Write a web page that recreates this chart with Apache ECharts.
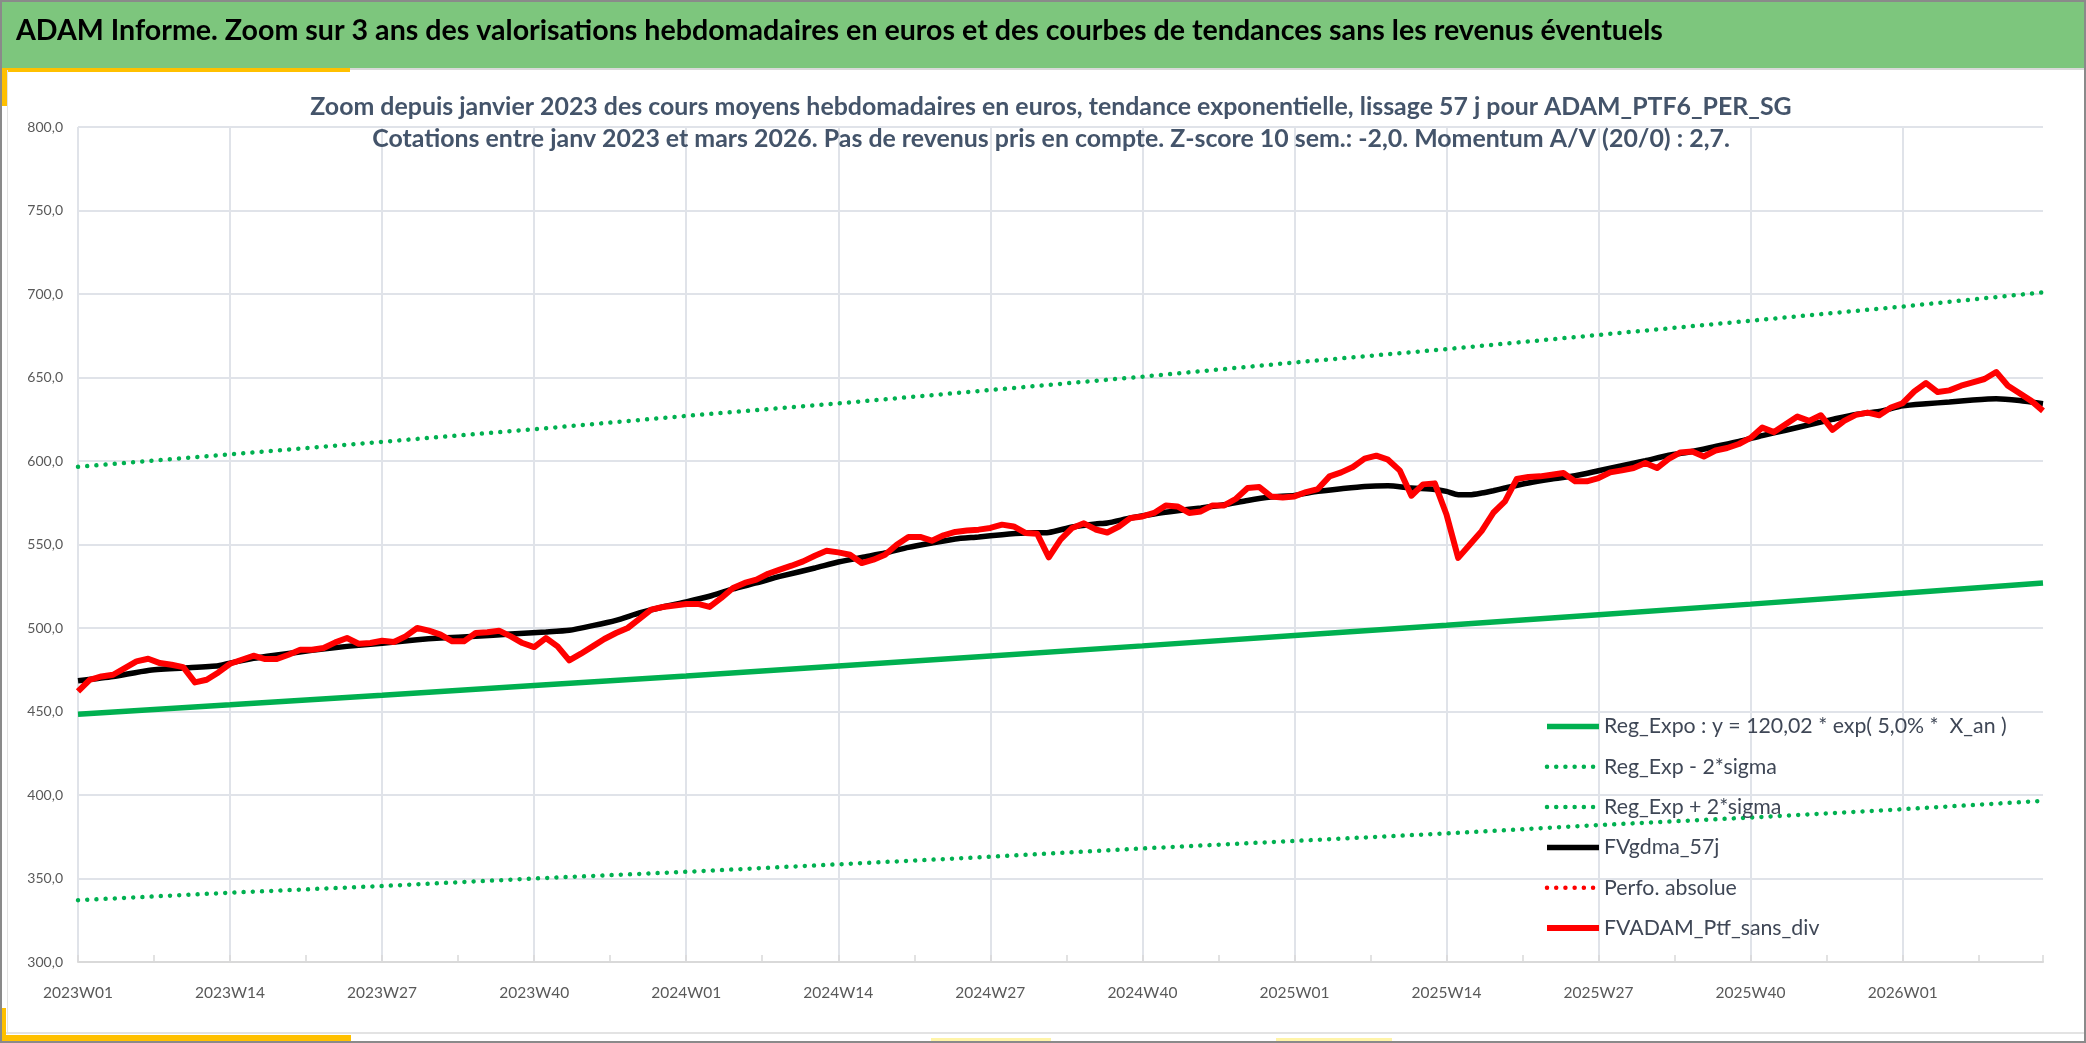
<!DOCTYPE html>
<html><head><meta charset="utf-8">
<script src="https://cdn.jsdelivr.net/npm/echarts@6/dist/echarts.min.js"></script>
<style>html,body{margin:0;padding:0;background:#fff}#c{width:2086px;height:1043px}</style>
</head><body><div id="c"></div>
<script>
// ---------- tick labels / categories ----------
const years = [2023, 2024, 2025, 2026];
const weeksPerYear = [52, 52, 52, 13];
const categories = [];
years.forEach((y, k) => { for (let w = 1; w <= weeksPerYear[k]; w++) categories.push(y + 'W' + String(w).padStart(2, '0')); });

// ---------- FVADAM_Ptf_sans_div (weekly, red) ----------
const ptfValues = [
 462,469,471,472,476,480,481.6,479,478,476.6,467.4,469,473.4,478.6,481,483.4,481.4,481.4,484,487,
 487,488,491.4,494,490.6,491,492.4,491.6,495,500,498.4,496,492,492,497,497.4,498.4,495,491,488.6,
 494,489,480.6,484.6,489,493.4,497,500,505.4,511,512.6,513.5,514.4,514.4,512.6,518,524,527,529,532.5,
 535,537.3,539.9,543.3,546.3,545.3,543.9,538.9,540.9,543.9,549.9,554.5,554.5,552.3,555.5,557.5,558.4,558.9,559.9,561.9,
 560.8,556.9,556.5,542.3,552.9,559.9,562.7,559,557.2,560.8,565.9,566.8,568.9,573.4,572.8,568.9,569.8,573.4,573.4,577.4,
 583.8,584.4,578.8,578.2,578.8,581.4,583.2,590.8,593.2,596.4,601.4,603.2,600.8,594.4,579.2,586,586.6,568,542,550,
 558,569,575.8,589.2,590.4,590.8,591.8,592.8,587.8,587.8,589.8,593.2,594.4,595.8,598.8,595.8,601.2,605.1,605.7,602.7,
 606.3,607.8,610.2,613.8,620,617.3,622,626.6,624,627.4,618.6,624,627.6,629,627.4,632,634.6,641.7,646.7,641.3,
 642.3,645.1,647.1,649.1,653.3,645.1,640.5,636,630
];

// ---------- FVgdma_57j (black), read at these week indexes ----------
const gdmaIdx = [0,3,6,9,12,13,15,17,20,23,26,29,31,34,37,40,42,44,46,48,50,52,54,56,58,60,63,65,67,69,71,73,75,77,79,81,83,85,87,
 88,90,92,94,96,98,100,102,104,106,108,110,112,114,116,117,118,119,120,121,122,124,126,128,130,132,134,136,138,140,142,144,146,148,150,152,154,156,158,160,162,164,166,168];
const gdmaValues = [468.4,471,474.6,476,477.4,479,481.8,483.8,486.6,489,490.9,493,494,495,496.4,497.6,498.6,501.4,504.6,509,512.6,515.6,519,523.4,527,530.9,535.9,539.5,542.3,544.9,548.3,550.9,553.3,554.5,555.9,556.9,557.2,560.5,562.3,
 562.9,565.9,568.3,570.2,571.9,573.8,576.4,578.4,579.4,581.8,583.4,584.8,585.2,583.8,583,581.8,579.8,579.8,580.8,582.2,583.8,586.8,589.2,591.2,594.2,597.2,600.2,603.4,605.7,608.7,611.7,615.2,618.4,621.7,624.9,627.9,629.7,633,634.3,635.3,636.5,637.3,636.2,634.3];

// ---------- regression lines, read at every gridline (13 weeks) + last week ----------
const trendIdx   = [0,13,26,39,52,65,78,91,104,117,130,143,156,168];
const regValues  = [448.4,454,459.7,465.5,471.3,477.3,483.3,489.3,495.5,501.7,508,514.3,520.8,527];
const lowValues  = [337,341.5,345.5,350,354,358.5,363,368,372.5,377,382,386.5,391.5,396.5];
const highValues = [596.5,604,611.5,619,627,634.5,642.5,650.5,659,667,675.5,684,692.5,701];

// ---------- axis ticks ----------
const yMin = 300, yMax = 800, yStep = 50;
const labelEvery = 13;

const TITLE = 'ADAM Informe. Zoom sur 3 ans des valorisations hebdomadaires en euros et des courbes de tendances sans les revenus éventuels';
const SUB1 = 'Zoom depuis janvier 2023 des cours moyens hebdomadaires en euros, tendance exponentielle, lissage 57 j pour ADAM_PTF6_PER_SG';
const SUB2 = 'Cotations entre janv 2023 et mars 2026. Pas de revenus pris en compte. Z-score 10 sem.: -2,0. Momentum A/V (20/0) : 2,7.';
const LEG = ['Reg_Expo : y = 120,02 * exp( 5,0% *  X_an )', 'Reg_Exp - 2*sigma', 'Reg_Exp + 2*sigma', 'FVgdma_57j', 'Perfo. absolue', 'FVADAM_Ptf_sans_div'];

const FONT = 'Lato, "Open Sans", sans-serif';
const GREEN = '#00B050', RED = '#FF0000', GRID = '#e0e3e9', TXT = '#595959', SUBC = '#44546A';
const DOT = [0.01, 9.2];
const pairs = (idx, vals) => idx.map((x, k) => [x, vals[k]]);

const solid = (c, w) => ({ color: c, width: w, cap: 'butt' });
const dotted = (c, w) => ({ color: c, width: w, type: DOT, cap: 'round' });
const legStyles = [solid(GREEN, 5.5), dotted(GREEN, 4.5), dotted(GREEN, 4.5), solid('#000', 5.5), dotted(RED, 4.5), solid(RED, 6)];

const chart = echarts.init(document.getElementById('c'), null, { renderer: 'canvas' });
chart.setOption({
  animation: false,
  backgroundColor: '#ffffff',
  textStyle: { fontFamily: FONT },
  grid: { left: 78, right: 43, top: 127, bottom: 81, containLabel: false },
  xAxis: [{
    type: 'category', data: categories, boundaryGap: false, position: 'bottom',
    axisLine: { show: true, lineStyle: { color: '#d9d9d9', width: 2 } },
    axisTick: { show: false },
    axisLabel: { interval: labelEvery - 1, color: TXT, fontSize: 15.5, fontFamily: FONT, margin: 23 },
    splitLine: { show: true, interval: labelEvery - 1, lineStyle: { color: GRID, width: 2 } }
  }, {
    type: 'value', min: 0, max: categories.length - 1, interval: labelEvery / 2, position: 'bottom',
    axisLine: { show: false }, axisLabel: { show: false }, splitLine: { show: false },
    axisTick: { show: true, inside: true, length: 7, lineStyle: { color: '#d9d9d9', width: 1.5 } }
  }],
  yAxis: {
    type: 'value', min: yMin, max: yMax, interval: yStep,
    axisLine: { show: false }, axisTick: { show: false },
    axisLabel: { color: TXT, fontSize: 14, fontFamily: FONT, margin: 15, formatter: v => v.toFixed(1).replace('.', ',') },
    splitLine: { show: true, lineStyle: { color: GRID, width: 2 } }
  },
  legend: {
    orient: 'vertical', left: 1544, top: 716, itemWidth: 52, itemHeight: 20, itemGap: 19.3, padding: 0,
    selectedMode: false,
    data: LEG.map((n, k) => ({ name: n, itemStyle: { opacity: 0 }, lineStyle: legStyles[k] })),
    textStyle: { fontSize: 21.3, lineHeight: 20, color: '#3F4756', fontFamily: FONT }
  },
  series: [
    { name: LEG[0], type: 'line', data: pairs(trendIdx, regValues), symbol: 'none', lineStyle: legStyles[0], itemStyle: { color: GREEN } },
    { name: LEG[1], type: 'line', data: pairs(trendIdx, lowValues), symbol: 'none', lineStyle: legStyles[1], itemStyle: { color: GREEN } },
    { name: LEG[2], type: 'line', data: pairs(trendIdx, highValues), symbol: 'none', lineStyle: legStyles[2], itemStyle: { color: GREEN } },
    { name: LEG[3], type: 'line', data: pairs(gdmaIdx, gdmaValues), symbol: 'none', smooth: 0.2, lineStyle: legStyles[3], itemStyle: { color: '#000000' } },
    { name: LEG[4], type: 'line', data: [], symbol: 'none', lineStyle: legStyles[4], itemStyle: { color: RED } },
    { name: LEG[5], type: 'line', data: ptfValues, symbol: 'none', lineStyle: Object.assign({ join: 'round' }, legStyles[5]), itemStyle: { color: RED } }
  ],
  graphic: [
    { type: 'rect', silent: true, z: -10, shape: { x: 0, y: 0, width: 2086, height: 68 }, style: { fill: '#7DC67D' } },
    { type: 'rect', silent: true, z: -10, shape: { x: 350, y: 68, width: 1736, height: 2 }, style: { fill: '#d9d9d9' } },
    { type: 'rect', silent: true, z: -10, shape: { x: 0, y: 68, width: 350, height: 4 }, style: { fill: '#FFC000' } },
    { type: 'rect', silent: true, z: -10, shape: { x: 0, y: 68, width: 7, height: 38 }, style: { fill: '#FFC000' } },
    { type: 'rect', silent: true, z: -10, shape: { x: 0, y: 1032, width: 2086, height: 2 }, style: { fill: '#e3e3e3' } },
    { type: 'rect', silent: true, z: -10, shape: { x: 7, y: 70, width: 1, height: 962 }, style: { fill: '#e3e3e3' } },
    { type: 'rect', silent: true, z: -10, shape: { x: 0, y: 1035, width: 351, height: 8 }, style: { fill: '#FFC000' } },
    { type: 'rect', silent: true, z: -10, shape: { x: 0, y: 1008, width: 6, height: 35 }, style: { fill: '#FFC000' } },
    { type: 'rect', silent: true, z: -10, shape: { x: 931, y: 1038, width: 120, height: 5 }, style: { fill: '#FFF4A8' } },
    { type: 'rect', silent: true, z: -10, shape: { x: 1276, y: 1038, width: 116, height: 5 }, style: { fill: '#FFF4A8' } },
    { type: 'rect', silent: true, z: 100, shape: { x: 1, y: 1, width: 2084, height: 1041 }, style: { fill: 'none', stroke: '#8a8a8a', lineWidth: 2 } },
    { type: 'text', silent: true, z: 10, x: 16, y: 31, style: { text: TITLE, fill: '#000000', font: 'bold 28.6px ' + FONT, align: 'left', verticalAlign: 'middle' } },
    { type: 'text', silent: true, z: 10, x: 1051, y: 107, style: { text: SUB1, fill: SUBC, font: 'bold 24.9px ' + FONT, align: 'center', verticalAlign: 'middle' } },
    { type: 'text', silent: true, z: 10, x: 1051, y: 139, style: { text: SUB2, fill: SUBC, font: 'bold 24.9px ' + FONT, align: 'center', verticalAlign: 'middle' } }
  ]
});
</script>
</body></html>
